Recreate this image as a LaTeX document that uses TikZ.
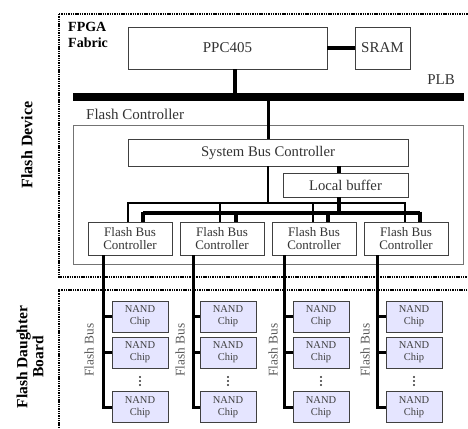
\documentclass[tikz,border=0pt]{standalone}
\usepackage{fontspec}
\setmainfont{Liberation Serif}
\begin{document}
\begin{tikzpicture}[x=1pt,y=-1pt,
  txt/.style={text=black!80},
  blk/.style={draw=black!75, line width=0.9pt, fill=white, inner sep=0pt, text=black!80},
  fbc/.style={blk, minimum width=84pt, minimum height=33pt, font=\fontsize{13}{13.5}\selectfont, align=center},
  nand/.style={draw=black!75, line width=0.9pt, fill=blue!10!white, inner sep=0pt, minimum width=56pt, minimum height=31pt, font=\fontsize{10.5}{12}\selectfont, align=center, text=black!75},
  region/.style={draw=black, line width=1.6pt, dash pattern=on 1.4pt off 0.9pt},
  bus/.style={line width=3pt, draw=black},
  thinbus/.style={line width=2pt, draw=black},
  side/.style={font=\fontsize{16}{16}\selectfont\bfseries, rotate=90, align=center}
]
\useasboundingbox (0,0) rectangle (468,428);

% Dotted regions
\draw[region] (59,14) -- (472,14) (59,14) -- (59,277) -- (472,277);
\draw[region] (472,290) -- (59,290) -- (59,432);

% Side labels
\node[side] (dev) at (27,145) {Flash Device};
\node[side, font=\fontsize{15.5}{16}\selectfont\bfseries] (board) at (30,357) {Flash Daughter\\Board};

% FPGA fabric
\node[font=\fontsize{14}{16}\selectfont\bfseries, align=left, anchor=west, inner sep=0pt] (fpga) at (68,35) {FPGA\\Fabric};
\node[blk, minimum width=199pt, minimum height=42pt, font=\fontsize{15}{15}\selectfont] (ppc) at (227.5,48) {PPC405};
\node[blk, minimum width=55pt, minimum height=42pt, font=\fontsize{15}{15}\selectfont] (sram) at (382.5,48) {SRAM};
\node[txt, font=\fontsize{15}{15}\selectfont, inner sep=0pt] (plblabel) at (441,80) {PLB};

% PLB bar
\coordinate (plbL) at (73,97);
\coordinate (plbR) at (464,97);
\draw[line width=8pt] (plbL) -- (plbR);
\draw[line width=4pt] (ppc.east) -- (sram.west);
\coordinate (ppcdrop) at (235,93);
\draw[line width=4pt] (ppc.south -| ppcdrop) -- (ppcdrop);

% Flash controller
\node[draw=black!55, line width=0.9pt, minimum width=390pt, minimum height=139pt, inner sep=0pt] (fc) at (268,194.5) {};
\node[txt, font=\fontsize{15}{15}\selectfont, anchor=west, inner sep=0pt] (fclabel) at (86,114) {Flash Controller};
\node[blk, minimum width=280pt, minimum height=27pt, font=\fontsize{14.7}{15}\selectfont] (sbc) at (268,152.5) {System Bus Controller};
\node[blk, minimum width=125pt, minimum height=24pt, font=\fontsize{14.7}{15}\selectfont] (lb) at (345.5,185) {Local buffer};

\coordinate (plbdrop) at (268,101);
\draw[bus] (plbdrop) -- (sbc.north);
\draw[line width=3.5pt] (sbc.south -| 339,0) -- (lb.north -| 339,0);

% Flash bus controllers
\foreach \i/\x in {1/130,2/222,3/314,4/406}{
  \node[fbc] (fbc\i) at (\x,238.5) {Flash Bus\\Controller};
}

% Thin control bus from the system bus controller
\coordinate (tL) at (128,203);
\coordinate (tR) at (405,203);
\draw[thinbus] (sbc.south) -- (268,203);
\draw[thinbus] (tL) -- (tR);
\foreach \i/\x in {1/128,2/220,3/313,4/405}{
  \draw[thinbus] (\x,202) -- (fbc\i.north -| \x,0);
}
% Thick data bus from the local buffer
\coordinate (dL) at (143,213);
\coordinate (dR) at (420,213);
\draw[line width=3.5pt] (lb.south -| 339,0) -- (339,213);
\draw[line width=3.5pt] (dL) -- (dR);
\foreach \i/\x in {1/143,2/236,3/328,4/420}{
  \draw[line width=3.5pt] (\x,211.5) -- (fbc\i.north -| \x,0);
}

% Flash buses and NAND chips
\foreach \i/\b/\c/\l in {1/103/140/89,2/193/228/180,3/284/321/273,4/377/414/365}{
  \node[nand] (n\i a) at (\c,316.5) {NAND\\Chip};
  \node[nand] (n\i b) at (\c,352.5) {NAND\\Chip};
  \node[nand] (n\i c) at (\c,407) {NAND\\Chip};
  \draw[bus, line join=miter] (fbc\i.south -| \b,0) -- (\b,407) -- (n\i c.west);
  \draw[bus] (\b,316.5) -- (n\i a.west);
  \draw[bus] (\b,352.5) -- (n\i b.west);
  \foreach \y in {377,381,385} \fill[black!80] (\c,\y) circle (1.1pt);
  \node[rotate=90, text=black!65, font=\fontsize{13.3}{14}\selectfont, inner sep=0pt] (fb\i) at (\l,350) {Flash Bus};
}
\end{tikzpicture}
\end{document}
